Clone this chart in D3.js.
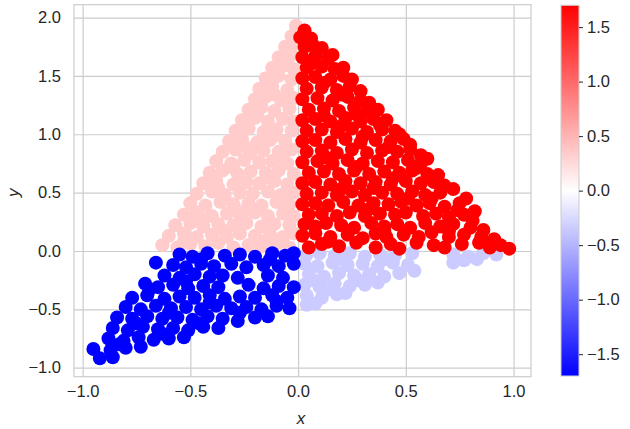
<!DOCTYPE html>
<html>
<head>
<meta charset="utf-8">
<script src="https://cdn.jsdelivr.net/npm/d3@7"></script>
<style>
  body { margin: 0; background: #fff; }
  svg text { font-family: "Liberation Sans", Arial, sans-serif; fill: #262626; }
</style>
</head>
<body>
<div id="chart"></div>
<script>
// point clouds for each quadrant
const redPts = [
  [0.05,0.03],[0.11,0.06],[0.19,0.04],[0.27,0.07],[0.36,0.03],[0.43,0.06],[0.47,0.02],[0.55,0.07],[0.63,0.05],[0.68,0.03],[0.76,0.06],[0.84,0.07],[0.89,0.03],[0.94,0.05],[0.98,0.02],
  [0.02,0.13],[0.08,0.15],[0.15,0.12],[0.23,0.14],[0.30,0.11],[0.36,0.15],[0.41,0.12],[0.49,0.14],[0.56,0.12],[0.62,0.16],[0.70,0.12],[0.77,0.14],[0.85,0.12],[0.91,0.10],
  [0.03,0.23],[0.08,0.21],[0.13,0.24],[0.20,0.22],[0.26,0.20],[0.34,0.24],[0.40,0.21],[0.46,0.23],[0.52,0.20],[0.59,0.24],[0.66,0.21],[0.72,0.23],[0.80,0.20],[0.86,0.18],
  [0.05,0.31],[0.11,0.32],[0.18,0.30],[0.24,0.33],[0.31,0.30],[0.38,0.32],[0.45,0.31],[0.50,0.33],[0.58,0.30],[0.64,0.32],[0.70,0.29],[0.77,0.31],[0.82,0.34],
  [0.02,0.40],[0.08,0.41],[0.14,0.39],[0.21,0.42],[0.28,0.39],[0.35,0.41],[0.42,0.40],[0.48,0.42],[0.55,0.39],[0.61,0.41],[0.68,0.38],[0.75,0.41],[0.78,0.45],
  [0.04,0.49],[0.11,0.50],[0.18,0.48],[0.25,0.51],[0.31,0.48],[0.39,0.50],[0.46,0.49],[0.53,0.51],[0.59,0.48],[0.66,0.50],[0.72,0.53],
  [0.02,0.58],[0.08,0.59],[0.15,0.57],[0.22,0.60],[0.29,0.58],[0.36,0.59],[0.43,0.57],[0.50,0.60],[0.57,0.58],[0.63,0.59],[0.68,0.56],
  [0.05,0.67],[0.12,0.68],[0.19,0.66],[0.26,0.69],[0.33,0.66],[0.40,0.68],[0.47,0.67],[0.53,0.69],[0.60,0.66],[0.65,0.65],
  [0.02,0.76],[0.09,0.77],[0.16,0.75],[0.23,0.78],[0.30,0.75],[0.37,0.77],[0.44,0.76],[0.51,0.78],[0.57,0.75],[0.60,0.79],
  [0.04,0.85],[0.11,0.86],[0.18,0.84],[0.25,0.87],[0.32,0.84],[0.39,0.86],[0.46,0.85],[0.52,0.87],[0.57,0.82],
  [0.02,0.94],[0.08,0.95],[0.15,0.93],[0.22,0.96],[0.29,0.93],[0.36,0.95],[0.43,0.94],[0.49,0.96],[0.52,0.91],
  [0.04,1.03],[0.11,1.04],[0.18,1.02],[0.25,1.05],[0.32,1.02],[0.39,1.04],[0.45,1.03],[0.47,1.00],
  [0.02,1.12],[0.08,1.13],[0.15,1.11],[0.22,1.14],[0.29,1.11],[0.35,1.13],[0.41,1.12],
  [0.05,1.21],[0.12,1.22],[0.19,1.20],[0.26,1.23],[0.32,1.20],[0.37,1.21],
  [0.02,1.30],[0.09,1.31],[0.16,1.29],[0.23,1.32],[0.29,1.29],[0.33,1.27],
  [0.04,1.39],[0.11,1.40],[0.18,1.38],[0.24,1.41],[0.29,1.37],
  [0.02,1.48],[0.08,1.49],[0.15,1.47],[0.21,1.50],[0.25,1.47],
  [0.04,1.57],[0.11,1.58],[0.17,1.56],[0.21,1.57],
  [0.02,1.66],[0.08,1.67],[0.14,1.65],[0.16,1.68],
  [0.03,1.75],[0.07,1.76],[0.11,1.74],
  [0.01,1.83],[0.06,1.82],
  [0.03,1.89],
  [0.14,0.08],[0.40,0.17],[0.70,0.17],[0.33,0.36],[0.62,0.45],[0.20,0.53],[0.44,0.62],[0.27,0.72],
  [0.55,0.71],[0.13,0.80],[0.42,0.89],[0.30,0.98],[0.20,1.07],[0.38,1.08],[0.12,1.16],[0.27,1.17],
  [0.20,1.34],[0.12,1.44],[0.07,1.61],[0.90,0.07],[0.81,0.26],[0.74,0.35],[0.51,0.45],[0.35,0.54]
];
const pinkPts = [
  [-0.63,0.05],[-0.56,0.03],[-0.50,0.06],[-0.43,0.04],[-0.37,0.07],[-0.30,0.03],[-0.23,0.05],[-0.17,0.04],[-0.10,0.06],[-0.04,0.03],
  [-0.60,0.13],[-0.53,0.15],[-0.47,0.12],[-0.40,0.14],[-0.33,0.12],[-0.27,0.15],[-0.20,0.13],[-0.13,0.14],[-0.07,0.12],[-0.02,0.15],
  [-0.57,0.22],[-0.50,0.24],[-0.44,0.21],[-0.37,0.23],[-0.30,0.22],[-0.24,0.24],[-0.17,0.21],[-0.11,0.23],[-0.04,0.22],
  [-0.53,0.31],[-0.47,0.33],[-0.40,0.30],[-0.33,0.32],[-0.27,0.31],[-0.20,0.33],[-0.14,0.30],[-0.07,0.32],[-0.02,0.30],
  [-0.50,0.41],[-0.43,0.39],[-0.36,0.42],[-0.30,0.40],[-0.23,0.41],[-0.17,0.39],[-0.10,0.42],[-0.04,0.40],
  [-0.47,0.49],[-0.40,0.51],[-0.34,0.48],[-0.27,0.50],[-0.21,0.49],[-0.14,0.51],[-0.08,0.48],[-0.02,0.50],
  [-0.44,0.58],[-0.38,0.60],[-0.30,0.57],[-0.24,0.59],[-0.18,0.58],[-0.11,0.60],[-0.05,0.57],
  [-0.41,0.67],[-0.35,0.69],[-0.28,0.66],[-0.22,0.68],[-0.15,0.67],[-0.09,0.69],[-0.02,0.66],
  [-0.38,0.77],[-0.31,0.75],[-0.25,0.78],[-0.18,0.76],[-0.12,0.77],[-0.05,0.75],
  [-0.35,0.85],[-0.29,0.87],[-0.22,0.84],[-0.16,0.86],[-0.09,0.85],[-0.03,0.87],
  [-0.32,0.94],[-0.26,0.96],[-0.19,0.93],[-0.13,0.95],[-0.06,0.94],
  [-0.29,1.03],[-0.23,1.05],[-0.16,1.02],[-0.10,1.04],[-0.03,1.03],
  [-0.26,1.12],[-0.20,1.14],[-0.14,1.11],[-0.07,1.13],[-0.02,1.11],
  [-0.23,1.21],[-0.17,1.23],[-0.11,1.20],[-0.04,1.22],
  [-0.20,1.30],[-0.15,1.32],[-0.08,1.29],[-0.02,1.31],
  [-0.18,1.39],[-0.12,1.41],[-0.05,1.38],
  [-0.15,1.48],[-0.09,1.50],[-0.03,1.47],
  [-0.12,1.57],[-0.06,1.59],[-0.02,1.56],
  [-0.09,1.66],[-0.03,1.68],
  [-0.06,1.75],[-0.02,1.77],
  [-0.03,1.84],
  [-0.01,1.93],
  [-0.53,0.08],[-0.34,0.17],[-0.15,0.09],[-0.44,0.27],[-0.24,0.36],[-0.07,0.44],[-0.37,0.54],
  [-0.14,0.63],[-0.30,0.71],[-0.07,0.80],[-0.25,0.90],[-0.11,0.99],[-0.19,1.17],[-0.11,1.34]
];
const bluePts = [
  [-0.55,-0.03],[-0.49,-0.05],[-0.42,-0.02],[-0.34,-0.04],[-0.27,-0.03],[-0.20,-0.05],[-0.12,-0.02],[-0.06,-0.04],[-0.02,-0.02],
  [-0.66,-0.10],[-0.58,-0.12],[-0.52,-0.14],[-0.45,-0.11],[-0.39,-0.13],[-0.31,-0.11],[-0.24,-0.14],[-0.16,-0.12],[-0.09,-0.13],[-0.02,-0.11],
  [-0.62,-0.21],[-0.55,-0.23],[-0.48,-0.20],[-0.41,-0.22],[-0.35,-0.21],[-0.28,-0.23],[-0.14,-0.21],[-0.07,-0.23],
  [-0.71,-0.28],[-0.65,-0.31],[-0.58,-0.29],[-0.51,-0.32],[-0.44,-0.30],[-0.37,-0.31],[-0.23,-0.29],[-0.16,-0.32],[-0.09,-0.30],[-0.02,-0.31],
  [-0.77,-0.40],[-0.70,-0.38],[-0.62,-0.41],[-0.55,-0.39],[-0.48,-0.40],[-0.41,-0.38],[-0.34,-0.41],[-0.27,-0.39],[-0.20,-0.40],[-0.12,-0.38],[-0.05,-0.40],
  [-0.80,-0.48],[-0.73,-0.50],[-0.66,-0.47],[-0.59,-0.49],[-0.52,-0.48],[-0.45,-0.50],[-0.38,-0.47],[-0.31,-0.49],[-0.24,-0.48],[-0.17,-0.50],[-0.10,-0.47],[-0.04,-0.49],
  [-0.84,-0.57],[-0.77,-0.58],[-0.70,-0.56],[-0.63,-0.58],[-0.56,-0.57],[-0.49,-0.59],[-0.42,-0.56],[-0.35,-0.58],[-0.28,-0.60],[-0.20,-0.57],[-0.14,-0.56],
  [-0.86,-0.66],[-0.79,-0.68],[-0.72,-0.65],[-0.65,-0.67],[-0.58,-0.66],[-0.51,-0.68],[-0.44,-0.65],[-0.37,-0.66],
  [-0.88,-0.75],[-0.81,-0.77],[-0.74,-0.74],[-0.67,-0.76],[-0.60,-0.75],[-0.53,-0.74],
  [-0.95,-0.84],[-0.87,-0.85],[-0.80,-0.83],[-0.73,-0.82],
  [-0.92,-0.92],[-0.86,-0.91],
  [-0.45,-0.07],[-0.13,-0.07],[-0.52,-0.26],[-0.69,-0.33],[-0.41,-0.44],[-0.10,-0.43],
  [-0.60,-0.53],[-0.27,-0.53],[-0.75,-0.62],[-0.46,-0.62],[-0.63,-0.71],[-0.83,-0.80]
];
const lavPts = [
  [0.04,-0.03],[0.10,-0.02],[0.17,-0.04],[0.24,-0.02],[0.31,-0.05],[0.38,-0.03],[0.45,-0.04],[0.53,-0.02],[0.72,-0.03],[0.79,-0.05],[0.86,-0.02],[0.92,-0.03],
  [0.03,-0.11],[0.09,-0.13],[0.16,-0.10],[0.23,-0.12],[0.30,-0.11],[0.37,-0.13],[0.44,-0.10],[0.51,-0.12],[0.72,-0.10],[0.77,-0.08],
  [0.05,-0.20],[0.12,-0.22],[0.19,-0.19],[0.26,-0.21],[0.33,-0.20],[0.40,-0.22],[0.47,-0.19],[0.54,-0.17],
  [0.03,-0.29],[0.10,-0.31],[0.17,-0.28],[0.24,-0.30],[0.31,-0.29],[0.37,-0.27],
  [0.04,-0.38],[0.11,-0.40],[0.18,-0.37],[0.22,-0.36],
  [0.04,-0.46],[0.08,-0.45],
  [0.20,-0.07],[0.41,-0.07],[0.07,-0.25],[0.28,-0.25],[0.14,-0.33],[0.83,-0.07]
];
// colour value of each group (bwr colour map)
const groupValues = { pink: 0.35, lav: -0.35, red: 1.7, blue: -1.7 };
const xTicks = [-1.0, -0.5, 0.0, 0.5, 1.0];
const yTicks = [-1.0, -0.5, 0.0, 0.5, 1.0, 1.5, 2.0];
const cbTicks = [-1.5, -1.0, -0.5, 0.0, 0.5, 1.0, 1.5];
const cRange = [-1.7, 1.7];

const W = 630, H = 429;
const plot = { left: 74, top: 4.7, right: 531, bottom: 376.7 };

const svg = d3.select("#chart").append("svg")
  .attr("width", W).attr("height", H);

const x = d3.scaleLinear().domain([-1.04, 1.081]).range([plot.left, plot.right]);
const y = d3.scaleLinear().domain([-1.077, 2.11]).range([plot.bottom, plot.top]);
const color = d3.scaleLinear().domain([cRange[0], 0, cRange[1]])
  .range(["#0000ff", "#ffffff", "#ff0000"]);
const fmt = d3.format(".1f");

// grid
const gx = svg.append("g")
  .attr("transform", `translate(0,${plot.bottom})`)
  .call(d3.axisBottom(x).tickValues(xTicks).tickFormat(fmt)
    .tickSize(-(plot.bottom - plot.top)).tickPadding(9));
const gy = svg.append("g")
  .attr("transform", `translate(${plot.left},0)`)
  .call(d3.axisLeft(y).tickValues(yTicks).tickFormat(fmt)
    .tickSize(-(plot.right - plot.left)).tickPadding(13));
[gx, gy].forEach(g => {
  g.select(".domain").remove();
  g.selectAll(".tick line").attr("stroke", "#cccccc").attr("stroke-width", 1.2);
  g.selectAll(".tick text").style("font-size", "16.5px").attr("fill", "#262626");
});

// frame
svg.append("rect")
  .attr("x", plot.left).attr("y", plot.top)
  .attr("width", plot.right - plot.left).attr("height", plot.bottom - plot.top)
  .attr("fill", "none").attr("stroke", "#cccccc").attr("stroke-width", 1.2);

// points
const groups = [
  { pts: pinkPts, v: groupValues.pink },
  { pts: lavPts, v: groupValues.lav },
  { pts: redPts, v: groupValues.red },
  { pts: bluePts, v: groupValues.blue }
];
groups.forEach(gr => {
  svg.append("g").selectAll("circle")
    .data(gr.pts)
    .enter()
    .append("circle")
    .attr("cx", d => x(d[0]))
    .attr("cy", d => y(d[1]))
    .attr("r", 7)
    .attr("fill", color(gr.v));
});

// axis labels
svg.append("text")
  .attr("x", x(0) + 3).attr("y", 424)
  .attr("text-anchor", "middle")
  .style("font-size", "17px").style("font-style", "italic")
  .text("x");
svg.append("text")
  .attr("transform", `translate(19,${y(0.5)}) rotate(-90)`)
  .attr("text-anchor", "middle")
  .style("font-size", "17px").style("font-style", "italic")
  .text("y");

// colorbar
const cb = { left: 561, width: 18, top: 5.3, bottom: 376 };
const defs = svg.append("defs");
const grad = defs.append("linearGradient")
  .attr("id", "bwr").attr("x1", 0).attr("y1", 1).attr("x2", 0).attr("y2", 0);
grad.selectAll("stop")
  .data([cRange[0], 0, cRange[1]])
  .enter().append("stop")
  .attr("offset", (d, i) => i / 2)
  .attr("stop-color", d => color(d));
svg.append("rect")
  .attr("x", cb.left).attr("y", cb.top)
  .attr("width", cb.width).attr("height", cb.bottom - cb.top)
  .attr("fill", "url(#bwr)")
  .attr("stroke", "#cccccc").attr("stroke-width", 1);

const cScale = d3.scaleLinear().domain(cRange).range([cb.bottom, cb.top]);
const gc = svg.append("g")
  .attr("transform", `translate(${cb.left + cb.width},0)`)
  .call(d3.axisRight(cScale).tickValues(cbTicks).tickFormat(fmt)
    .tickSize(4).tickPadding(4));
gc.select(".domain").remove();
gc.selectAll(".tick line").attr("stroke", "#262626").attr("stroke-width", 1);
gc.selectAll(".tick text").style("font-size", "16.5px").attr("fill", "#262626");
</script>
</body>
</html>
